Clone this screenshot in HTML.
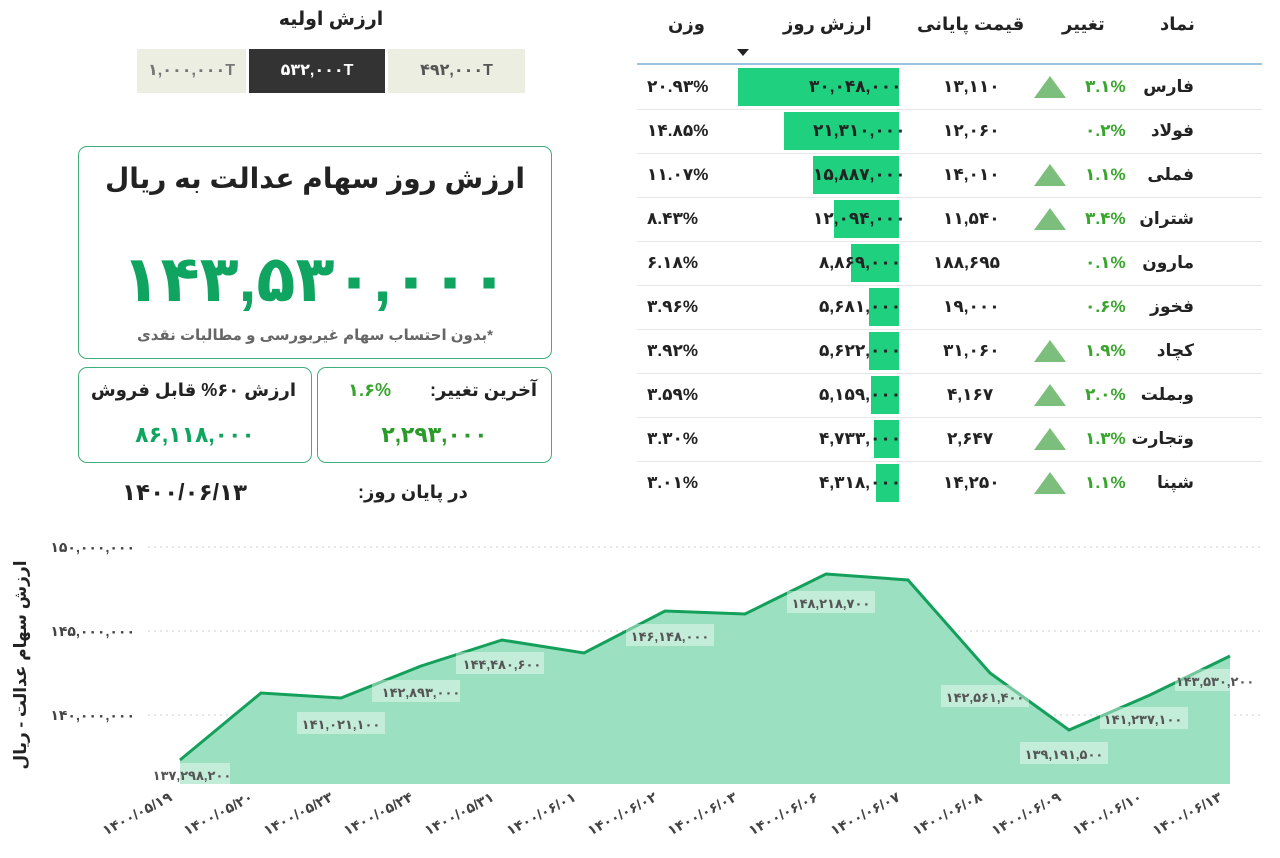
<!DOCTYPE html>
<html><head><meta charset="utf-8"><style>
body{margin:0;width:1280px;height:858px;background:#fff;font-family:"Liberation Sans","DejaVu Sans","Noto Sans CJK SC",sans-serif;position:relative;overflow:hidden;color:#222}
.a{position:absolute}
.c{text-align:center}
.box{position:absolute;border:1.5px solid #3fae7a;border-radius:9px;box-sizing:border-box}
.row{position:absolute;left:637px;width:625px;height:44px;border-bottom:1px solid #e6e6e6}
.row div{position:absolute;top:0;line-height:44px;font-weight:bold;font-size:17px}
.bar{background:#1fd07f;top:3px!important;height:38px}
.tri{width:0;height:0;border-left:16px solid transparent;border-right:16px solid transparent;border-bottom:22px solid #7cbf7c;top:11px!important}
</style></head><body>
<div class="a c" style="left:137px;width:388px;top:8px;font-size:19px;font-weight:bold">ارزش اولیه</div>
<div class="a c" style="left:137px;top:49px;width:109px;height:44px;line-height:44px;background:#eceee2;color:#777;font-weight:bold;font-size:16px">۱,۰۰۰,۰۰۰T</div>
<div class="a c" style="left:249px;top:49px;width:136px;height:44px;line-height:44px;background:#333;color:#fff;font-weight:bold;font-size:16px">۵۳۲,۰۰۰T</div>
<div class="a c" style="left:388px;top:49px;width:137px;height:44px;line-height:44px;background:#eceee2;color:#555;font-weight:bold;font-size:16px">۴۹۲,۰۰۰T</div>

<div class="box" style="left:78px;top:146px;width:474px;height:213px"></div>
<div class="a c" style="left:78px;width:474px;top:162px;font-size:28px;font-weight:bold;direction:rtl">ارزش روز سهام عدالت به ریال</div>
<div class="a c" style="left:78px;width:474px;top:234px;font-size:64px;font-weight:bold;color:#0fa460;line-height:90px;letter-spacing:-4px">۱۴۳,۵۳۰,۰۰۰</div>
<div class="a c" style="left:78px;width:474px;top:326px;font-size:15px;font-weight:bold;color:#666;direction:rtl">*بدون احتساب سهام غیربورسی و مطالبات نقدی</div>

<div class="box" style="left:78px;top:367px;width:234px;height:96px"></div>
<div class="a" style="left:84px;width:212px;top:380px;font-size:18px;font-weight:bold;direction:rtl;text-align:right;white-space:nowrap">ارزش ۶۰% قابل فروش</div>
<div class="a c" style="left:78px;width:234px;top:422px;font-size:22px;font-weight:bold;color:#0fa460">۸۶,۱۱۸,۰۰۰</div>
<div class="box" style="left:317px;top:367px;width:235px;height:96px"></div>
<div class="a" style="left:430px;top:380px;font-size:18px;font-weight:bold;direction:rtl">آخرین تغییر:</div>
<div class="a" style="left:348px;top:380px;font-size:18px;font-weight:bold;color:#3aa52e">۱.۶%</div>
<div class="a c" style="left:317px;width:235px;top:422px;font-size:22px;font-weight:bold;color:#2a9a28">۲,۲۹۳,۰۰۰</div>
<div class="a" style="left:122px;top:479px;font-size:23px;font-weight:bold">۱۴۰۰/۰۶/۱۳</div>
<div class="a" style="left:358px;top:482px;font-size:18px;font-weight:bold;direction:rtl">در پایان روز:</div>

<div class="a" style="left:1160px;top:14px;font-size:18px;font-weight:bold">نماد</div>
<div class="a" style="left:1062px;top:14px;font-size:18px;font-weight:bold">تغییر</div>
<div class="a" style="left:917px;top:14px;font-size:18px;font-weight:bold;direction:rtl">قیمت پایانی</div>
<div class="a" style="left:783px;top:14px;font-size:18px;font-weight:bold;direction:rtl">ارزش روز</div>
<div class="a" style="left:668px;top:14px;font-size:18px;font-weight:bold">وزن</div>
<div class="a" style="left:737px;top:49px;width:0;height:0;border-left:6px solid transparent;border-right:6px solid transparent;border-top:7px solid #222"></div>
<div class="a" style="left:637px;top:63px;width:625px;height:2px;background:#9cc3e0"></div>

<div class="row" style="top:65px"><div class="bar" style="left:101px;width:161px"></div><div style="right:68px">فارس</div><div style="left:448px;color:#3aa52e">۳.۱%</div><div class="tri" style="left:397px"></div><div style="left:306px">۱۳,۱۱۰</div><div style="left:172px">۳۰,۰۴۸,۰۰۰</div><div style="left:10px">۲۰.۹۳%</div></div>
<div class="row" style="top:109px"><div class="bar" style="left:147px;width:115px"></div><div style="right:68px">فولاد</div><div style="left:448px;color:#3aa52e">۰.۲%</div><div style="left:306px">۱۲,۰۶۰</div><div style="left:176px">۲۱,۳۱۰,۰۰۰</div><div style="left:10px">۱۴.۸۵%</div></div>
<div class="row" style="top:153px"><div class="bar" style="left:176px;width:86px"></div><div style="right:68px">فملی</div><div style="left:448px;color:#3aa52e">۱.۱%</div><div class="tri" style="left:397px"></div><div style="left:306px">۱۴,۰۱۰</div><div style="left:176px">۱۵,۸۸۷,۰۰۰</div><div style="left:10px">۱۱.۰۷%</div></div>
<div class="row" style="top:197px"><div class="bar" style="left:197px;width:65px"></div><div style="right:68px">شتران</div><div style="left:448px;color:#3aa52e">۳.۴%</div><div class="tri" style="left:397px"></div><div style="left:306px">۱۱,۵۴۰</div><div style="left:176px">۱۲,۰۹۴,۰۰۰</div><div style="left:10px">۸.۴۳%</div></div>
<div class="row" style="top:241px"><div class="bar" style="left:214px;width:48px"></div><div style="right:68px">مارون</div><div style="left:448px;color:#3aa52e">۰.۱%</div><div style="left:296px">۱۸۸,۶۹۵</div><div style="left:182px">۸,۸۶۹,۰۰۰</div><div style="left:10px">۶.۱۸%</div></div>
<div class="row" style="top:285px"><div class="bar" style="left:232px;width:30px"></div><div style="right:68px">فخوز</div><div style="left:448px;color:#3aa52e">۰.۶%</div><div style="left:306px">۱۹,۰۰۰</div><div style="left:182px">۵,۶۸۱,۰۰۰</div><div style="left:10px">۳.۹۶%</div></div>
<div class="row" style="top:329px"><div class="bar" style="left:232px;width:30px"></div><div style="right:68px">کچاد</div><div style="left:448px;color:#3aa52e">۱.۹%</div><div class="tri" style="left:397px"></div><div style="left:306px">۳۱,۰۶۰</div><div style="left:182px">۵,۶۲۲,۰۰۰</div><div style="left:10px">۳.۹۲%</div></div>
<div class="row" style="top:373px"><div class="bar" style="left:234px;width:28px"></div><div style="right:68px">وبملت</div><div style="left:448px;color:#3aa52e">۲.۰%</div><div class="tri" style="left:397px"></div><div style="left:310px">۴,۱۶۷</div><div style="left:182px">۵,۱۵۹,۰۰۰</div><div style="left:10px">۳.۵۹%</div></div>
<div class="row" style="top:417px"><div class="bar" style="left:237px;width:25px"></div><div style="right:68px">وتجارت</div><div style="left:448px;color:#3aa52e">۱.۳%</div><div class="tri" style="left:397px"></div><div style="left:310px">۲,۶۴۷</div><div style="left:182px">۴,۷۳۳,۰۰۰</div><div style="left:10px">۳.۳۰%</div></div>
<div class="row" style="top:461px;border-bottom:none"><div class="bar" style="left:239px;width:23px"></div><div style="right:68px">شپنا</div><div style="left:448px;color:#3aa52e">۱.۱%</div><div class="tri" style="left:397px"></div><div style="left:306px">۱۴,۲۵۰</div><div style="left:182px">۴,۳۱۸,۰۰۰</div><div style="left:10px">۳.۰۱%</div></div>

<svg class="a" style="left:0;top:0" width="1280" height="858">
<g stroke="#ccc" stroke-dasharray="2,4" stroke-width="1"><line x1="148" x2="1262" y1="547" y2="547"/><line x1="148" x2="1262" y1="631" y2="631"/><line x1="148" x2="1262" y1="715" y2="715"/></g>
<g font-size="14" font-weight="bold" fill="#444" text-anchor="end"><text x="135" y="552">۱۵۰,۰۰۰,۰۰۰</text><text x="135" y="636">۱۴۵,۰۰۰,۰۰۰</text><text x="135" y="720">۱۴۰,۰۰۰,۰۰۰</text></g>
<text transform="translate(26,665) rotate(-90)" text-anchor="middle" font-size="17" font-weight="bold" fill="#222" direction="rtl">ارزش سهام عدالت - ریال</text>
<path d="M180,760 L261,693 L341,698 L421,666 L502,640 L584,653 L665,611 L745,614 L826,574 L908,580 L990,673 L1069,730 L1150,695 L1230,656 L1230,784 L180,784Z" fill="#9be0c0"/>
<path d="M180,760 L261,693 L341,698 L421,666 L502,640 L584,653 L665,611 L745,614 L826,574 L908,580 L990,673 L1069,730 L1150,695 L1230,656" fill="none" stroke="#14a05a" stroke-width="3"/>
<g fill="#fff" fill-opacity="0.4"><rect x="150" y="763" width="80" height="22"/><rect x="297" y="712" width="88" height="22"/><rect x="372" y="680" width="88" height="22"/><rect x="456" y="652" width="88" height="22"/><rect x="626" y="624" width="88" height="22"/><rect x="787" y="591" width="88" height="22"/><rect x="941" y="685" width="88" height="22"/><rect x="1020" y="742" width="88" height="22"/><rect x="1100" y="707" width="88" height="22"/><rect x="1175" y="669" width="80" height="22"/></g>
<g font-size="13" font-weight="bold" fill="#555" text-anchor="middle"><text x="192" y="780">۱۳۷,۲۹۸,۲۰۰</text><text x="341" y="729">۱۴۱,۰۲۱,۱۰۰</text><text x="421" y="697">۱۴۲,۸۹۳,۰۰۰</text><text x="502" y="669">۱۴۴,۴۸۰,۶۰۰</text><text x="670" y="641">۱۴۶,۱۴۸,۰۰۰</text><text x="831" y="608">۱۴۸,۲۱۸,۷۰۰</text><text x="985" y="702">۱۴۲,۵۶۱,۴۰۰</text><text x="1064" y="759">۱۳۹,۱۹۱,۵۰۰</text><text x="1143" y="724">۱۴۱,۲۳۷,۱۰۰</text><text x="1215" y="686">۱۴۳,۵۳۰,۲۰۰</text></g>
<g font-size="14" font-weight="bold" fill="#444" text-anchor="end">
<text transform="translate(173,800) rotate(-28)">۱۴۰۰/۰۵/۱۹</text>
<text transform="translate(254,800) rotate(-28)">۱۴۰۰/۰۵/۲۰</text>
<text transform="translate(334,800) rotate(-28)">۱۴۰۰/۰۵/۲۳</text>
<text transform="translate(414,800) rotate(-28)">۱۴۰۰/۰۵/۲۴</text>
<text transform="translate(495,800) rotate(-28)">۱۴۰۰/۰۵/۳۱</text>
<text transform="translate(577,800) rotate(-28)">۱۴۰۰/۰۶/۰۱</text>
<text transform="translate(658,800) rotate(-28)">۱۴۰۰/۰۶/۰۲</text>
<text transform="translate(738,800) rotate(-28)">۱۴۰۰/۰۶/۰۳</text>
<text transform="translate(819,800) rotate(-28)">۱۴۰۰/۰۶/۰۶</text>
<text transform="translate(901,800) rotate(-28)">۱۴۰۰/۰۶/۰۷</text>
<text transform="translate(983,800) rotate(-28)">۱۴۰۰/۰۶/۰۸</text>
<text transform="translate(1062,800) rotate(-28)">۱۴۰۰/۰۶/۰۹</text>
<text transform="translate(1143,800) rotate(-28)">۱۴۰۰/۰۶/۱۰</text>
<text transform="translate(1223,800) rotate(-28)">۱۴۰۰/۰۶/۱۳</text>
</g>
</svg>
</body></html>
